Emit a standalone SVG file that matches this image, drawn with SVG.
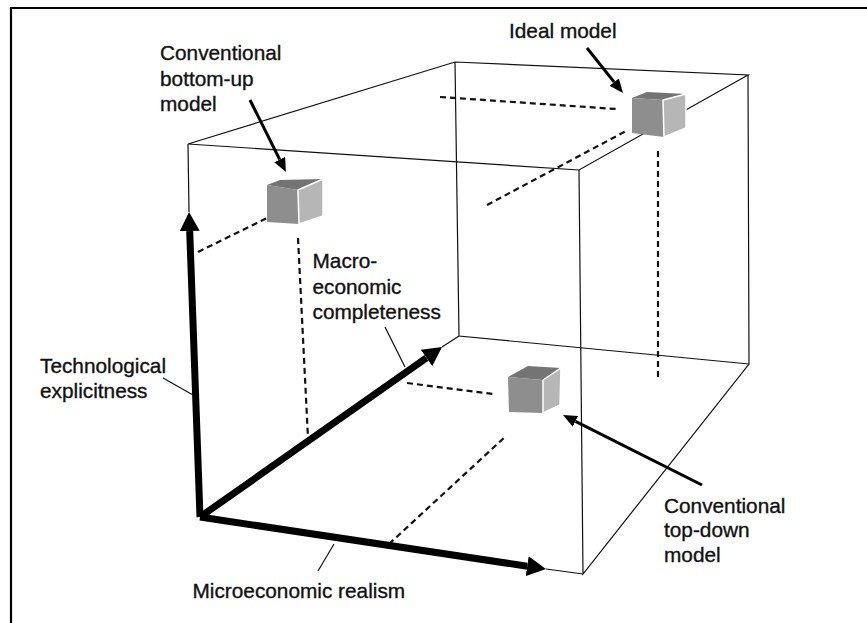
<svg xmlns="http://www.w3.org/2000/svg" width="867" height="623" viewBox="0 0 867 623">
<style>
  .t { font-family: "Liberation Sans", Arial, sans-serif; font-size: 20.8px; fill: #111; stroke: #111; stroke-width: 0.35; }
  .edge { fill: none; stroke: #111; stroke-width: 1.2; }
  .dash { fill: none; stroke: #111; stroke-width: 2.2; stroke-dasharray: 6 4; }
  .axis { fill: none; stroke: #000; stroke-width: 7; }
  .ptr { fill: none; stroke: #000; stroke-width: 3; }
  .lead { fill: none; stroke: #111; stroke-width: 1.2; }
  .front { fill: #8e8e8e; }
  .top { fill: #747474; }
  .right { fill: #b6b6b6; stroke: #fff; stroke-width: 1.5; }
</style>
<defs>
  <marker id="axisHead" markerUnits="userSpaceOnUse" markerWidth="22" markerHeight="20" refX="0" refY="10" orient="auto">
    <path d="M0,0 L19,10 L0,20 z" fill="#000"/>
  </marker>
  <marker id="ptrHead" markerUnits="userSpaceOnUse" markerWidth="16" markerHeight="12" refX="0" refY="6" orient="auto">
    <path d="M0,0 L14,6 L0,12 z" fill="#000"/>
  </marker>
</defs>
<rect width="867" height="623" fill="#fff"/>
<path d="M11,623 V8 H867" fill="none" stroke="#000" stroke-width="2.2"/>

<g id="box">
  <path class="edge" d="M188,144 L455,62 L748,75 L579,170 Z"/>
  <path class="edge" d="M188,144 L189,212"/>
  <path class="edge" d="M579,170 L583,574 L749,364 L748,75"/>
  <path class="edge" d="M455,62 L459,336 L749,364"/>
  <path class="edge" d="M442,347 L459,336"/>
  <path class="edge" d="M546,569 L583,574"/>
</g>

<g id="connectors">
  <path class="dash" d="M198,252 L267,218"/>
  <path class="dash" d="M298,238 L308,438"/>
  <path class="dash" d="M440,97 L616,109"/>
  <path class="dash" d="M487,205 L628,130"/>
  <path class="dash" d="M658,151 L658,381"/>
  <path class="dash" d="M407,383 L493,394"/>
  <path class="dash" d="M389,544 L506,436"/>
  <path class="axis" d="M200,517 L189.7,231" marker-end="url(#axisHead)"/>
  <path class="axis" d="M200,517 L527.2,566.2" marker-end="url(#axisHead)"/>
  <path class="axis" d="M200,517 L426.5,357.9" marker-end="url(#axisHead)"/>
  <path class="ptr" d="M250,100 L279.7,159.5" marker-end="url(#ptrHead)"/>
  <path class="ptr" d="M587,48 L614.2,82.1" marker-end="url(#ptrHead)"/>
  <path class="ptr" d="M702,485 L575.5,421.3" marker-end="url(#ptrHead)"/>
  <path class="lead" d="M163,378 L193,395"/>
  <path class="lead" d="M385,327 L405,367"/>
  <path class="lead" d="M334,544 L318,571"/>
</g>

<g id="bottom-up">
  <path class="top" d="M267,185 L280,180 L323,179 L298,190 Z"/>
  <path class="front" d="M267,185 L298,190 L299,224 L267,222 Z"/>
  <path class="right" d="M298,190 L323,179 L323,216 L299,224 Z"/>
  <text class="t" x="160" y="60">Conventional</text>
  <text class="t" x="160" y="85.5">bottom-up</text>
  <text class="t" x="160" y="111">model</text>
</g>

<g id="ideal">
  <path class="top" d="M632,98 L647,92 L686,94 L663,100 Z"/>
  <path class="front" d="M632,98 L663,100 L664,137 L632,133 Z"/>
  <path class="right" d="M663,100 L686,94 L686,128 L664,137 Z"/>
  <text class="t" x="509" y="38">Ideal model</text>
</g>

<g id="top-down">
  <path class="top" d="M508,377 L528,366 L561,368 L543,380 Z"/>
  <path class="front" d="M508,377 L543,380 L543,413 L509,412 Z"/>
  <path class="right" d="M543,380 L561,368 L560,405 L543,413 Z"/>
  <text class="t" x="664" y="512.5">Conventional</text>
  <text class="t" x="664" y="537">top-down</text>
  <text class="t" x="664" y="562">model</text>
</g>

<g id="axis-tech">
  <text class="t" x="40" y="373">Technological</text>
  <text class="t" x="40" y="398">explicitness</text>
</g>
<g id="axis-macro">
  <text class="t" x="312.5" y="268">Macro-</text>
  <text class="t" x="312.5" y="293.5">economic</text>
  <text class="t" x="312.5" y="319">completeness</text>
</g>
<g id="axis-micro">
  <text class="t" x="192.5" y="598">Microeconomic realism</text>
</g>
</svg>
